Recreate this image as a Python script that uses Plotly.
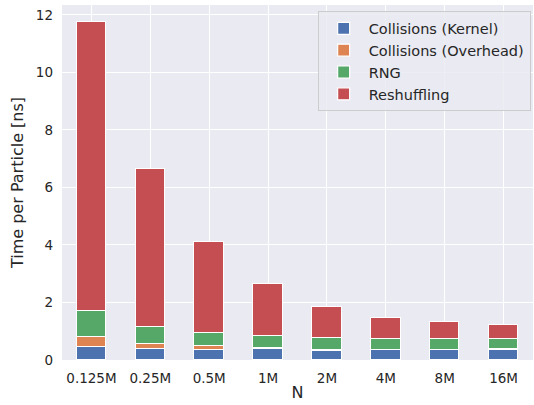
import plotly.graph_objects as go

# Particle counts and per-stage time per particle (ns)
sizes = ["0.125M", "0.25M", "0.5M", "1M", "2M", "4M", "8M", "16M"]
kernel = [0.44, 0.37, 0.36, 0.37, 0.33, 0.34, 0.34, 0.36]
overhead = [0.37, 0.20, 0.12, 0.04, 0.02, 0.01, 0.01, 0.01]
rng = [0.88, 0.59, 0.45, 0.41, 0.40, 0.37, 0.37, 0.35]
reshuffling = [10.06, 5.48, 3.17, 1.82, 1.10, 0.74, 0.60, 0.51]

series = [
    ("Collisions (Kernel)", kernel, "#4C72B0"),
    ("Collisions (Overhead)", overhead, "#DD8452"),
    ("RNG", rng, "#55A868"),
    ("Reshuffling", reshuffling, "#C44E52"),
]

xpos = list(range(len(sizes)))

fig = go.Figure()
for name, vals, color in series:
    fig.add_trace(go.Bar(
        x=xpos, y=vals, name=name, width=0.5,
        marker=dict(color=color, line=dict(color="white", width=1.2)),
    ))

font = "DejaVu Sans, sans-serif"
fig.update_layout(
    barmode="stack",
    width=534, height=405,
    margin=dict(l=62, r=1, t=5, b=45),
    paper_bgcolor="white",
    plot_bgcolor="#EAEAF2",
    font=dict(family=font, size=13.5, color="#262626"),
    bargap=0,
    legend=dict(
        x=0.995, y=0.982, xanchor="right", yanchor="top",
        bgcolor="rgba(234,234,242,0.85)",
        bordercolor="#CCCCCC", borderwidth=1,
        font=dict(size=14.5),
        traceorder="normal",
        tracegroupgap=0, itemwidth=40,
    ),
    xaxis=dict(
        tickmode="array", tickvals=xpos, ticktext=sizes,
        range=[-0.5, 7.5],
        showgrid=True, gridcolor="white", gridwidth=1.2,
        zeroline=False, showline=False, ticks="",
        ticklabelstandoff=8,
        title=dict(text="N", standoff=2),
    ),
    yaxis=dict(
        range=[0, 12.34],
        tickvals=[0, 2, 4, 6, 8, 10, 12],
        showgrid=True, gridcolor="white", gridwidth=1.2,
        zeroline=False, showline=False, ticks="",
        ticklabelstandoff=8,
        title=dict(text="Time per Particle [ns]", standoff=8),
    ),
)

fig.write_html("out.html")
